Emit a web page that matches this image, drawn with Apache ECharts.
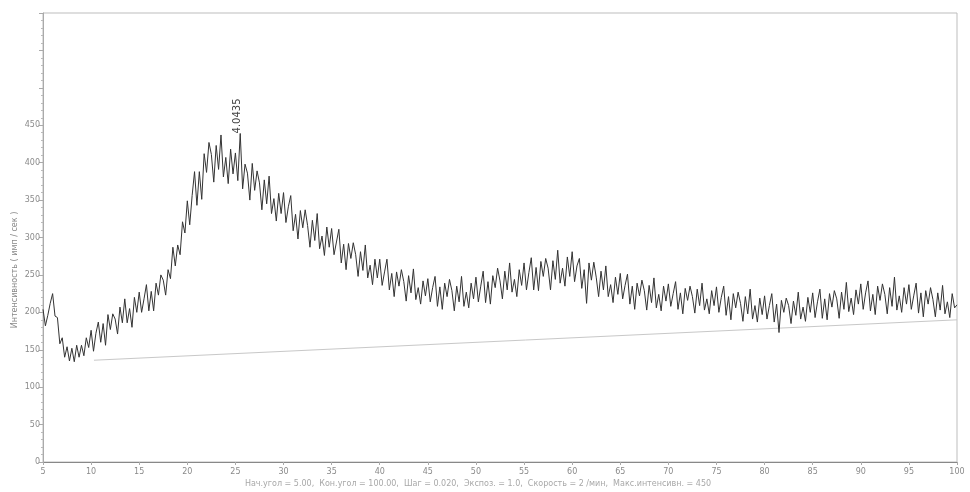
<!DOCTYPE html>
<html>
<head>
<meta charset="utf-8">
<script src="https://cdn.jsdelivr.net/npm/echarts@6/dist/echarts.min.js"></script>
<style>
  html, body { margin: 0; padding: 0; background: #fff; }
  #chart { width: 970px; height: 492px; }
</style>
</head>
<body>
<div id="chart"></div>
<script>
// 2-theta grid of the scan
const startAngle = 5
const angleStep = 0.25

// intensity, imp/sec (one row = 5 degrees)
const intensity = [
  204,182,196,212,225,195,193,158,166,140,154,135,152,134,156,140,156,142,166,153,
  176,148,172,187,160,185,156,197,177,198,191,171,207,186,218,186,205,180,220,200,
  227,200,218,237,202,228,202,239,223,250,243,223,257,245,287,262,290,277,321,306,
  349,317,356,388,343,388,351,412,387,427,411,374,423,391,437,381,407,372,418,385,
  413,376,439,365,398,386,350,399,363,389,373,337,377,345,382,332,352,322,359,332,
  360,320,341,356,309,331,298,336,313,337,316,287,323,296,332,285,302,276,314,287,
  312,277,294,311,266,291,257,292,272,293,277,248,281,256,290,246,263,237,271,246,
  271,236,254,271,230,252,221,254,235,257,241,215,249,226,258,217,233,211,242,222,
  245,214,233,248,208,234,204,239,221,244,229,202,235,214,248,208,227,206,239,218,
  247,214,235,255,213,241,211,249,233,259,242,218,255,230,266,227,244,221,257,236,
  266,230,253,273,230,260,229,268,248,272,259,230,269,244,283,239,259,235,274,248,
  281,241,262,272,232,257,212,266,243,267,247,221,255,230,262,221,237,213,247,224,
  252,218,236,251,211,235,204,239,222,243,229,203,236,213,246,206,224,202,235,215,
  238,208,225,241,204,226,198,232,216,235,221,199,231,209,239,203,218,198,229,209,
  234,200,220,235,196,221,190,225,206,227,212,188,221,198,231,191,209,187,219,197,
  222,191,209,225,187,211,173,216,200,219,209,185,215,196,227,191,207,188,220,200,
  226,193,214,231,192,218,190,225,207,229,218,192,227,204,240,201,219,197,230,211,
  238,204,226,242,202,224,197,235,216,238,224,198,233,208,247,203,222,200,233,211,
  237,204,222,239,199,226,194,229,211,233,217,194,226,203,236,198,214,193,225,206,
  210
]

// background line drawn under the pattern
const bgAngles = [10.3, 100]
const bgValues = [136, 190]

// peak mark
const peakAngle = 25.5
const peakValue = 439
const peakLabel = '4.0435'

const yLabelMax = 450
const yTitle = 'Интенсивность ( имп / сек )'
const caption = 'Нач.угол = 5.00,  Кон.угол = 100.00,  Шаг = 0.020,  Экспоз. = 1.0,  Скорость = 2 /мин,  Макс.интенсивн. = 450'

const chart = echarts.init(document.getElementById('chart'))

const pattern = intensity.map((v, i) => [startAngle + i * angleStep, v])
const background = bgAngles.map((a, i) => [a, bgValues[i]])

const font = 'DejaVu Sans'

chart.setOption({
  animation: false,
  backgroundColor: '#fff',
  grid: {
    left: 43, right: 13, top: 13, bottom: 30,
    show: true, borderColor: '#bdbdbd', borderWidth: 1
  },
  xAxis: {
    type: 'value',
    min: 5, max: 100, interval: 5,
    axisLine: { lineStyle: { color: '#888' } },
    axisTick: { length: 3, lineStyle: { color: '#aaa' } },
    splitLine: { show: false },
    axisLabel: { color: '#8a8a8a', fontSize: 8, fontFamily: font, margin: 6 }
  },
  yAxis: {
    type: 'value',
    min: 0, max: 600, interval: 50,
    axisLine: { show: true, lineStyle: { color: '#aaa' } },
    axisTick: { show: true, length: 4, lineStyle: { color: '#aaa' } },
    minorTick: { show: true, splitNumber: 5, length: 2, lineStyle: { color: '#bbb' } },
    splitLine: { show: false },
    axisLabel: {
      color: '#8a8a8a', fontSize: 8, fontFamily: font, margin: 3,
      formatter: v => (v <= yLabelMax ? String(v) : '')
    }
  },
  graphic: [
    {
      type: 'text', x: 15, y: 270, rotation: Math.PI / 2,
      style: {
        text: yTitle, fill: '#888', fontSize: 8, fontFamily: font,
        align: 'center', verticalAlign: 'middle'
      }
    },
    {
      type: 'text', x: 478, y: 484,
      style: {
        text: caption, fill: '#a8a8a8', fontSize: 8, fontFamily: font,
        align: 'center', verticalAlign: 'middle'
      }
    }
  ],
  series: [
    {
      type: 'line',
      data: background,
      symbol: 'none',
      silent: true,
      lineStyle: { color: '#c8c8c8', width: 1 },
      z: 1
    },
    {
      type: 'line',
      data: pattern,
      symbol: 'none',
      lineStyle: { color: '#333', width: 1 },
      z: 2,
      markPoint: {
        symbol: 'circle',
        symbolSize: 0,
        data: [{ coord: [peakAngle, peakValue] }],
        label: {
          show: true,
          formatter: peakLabel,
          position: 'inside',
          rotate: 90,
          align: 'left',
          verticalAlign: 'middle',
          offset: [0, -3],
          color: '#444',
          fontSize: 10,
          fontFamily: font
        }
      }
    }
  ]
})
</script>
</body>
</html>
